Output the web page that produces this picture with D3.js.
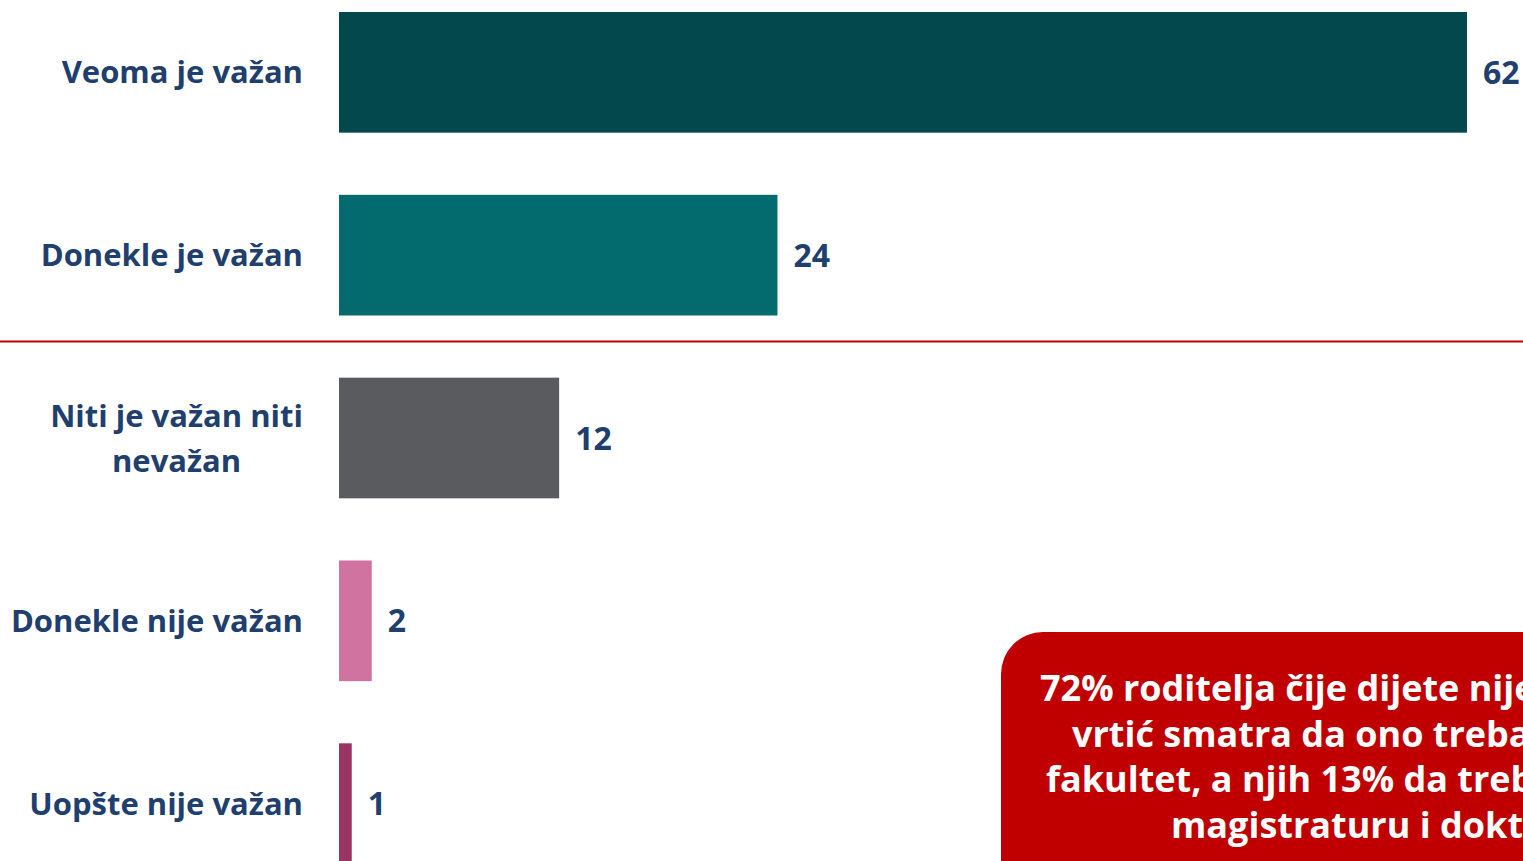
<!DOCTYPE html>
<html>
<head>
<meta charset="utf-8">
<script src="https://cdn.jsdelivr.net/npm/d3@7"></script>
<style>
  html, body { margin: 0; padding: 0; background: #fff; overflow: hidden; }
  text { font-family: "Open Sans", "Noto Sans", sans-serif; font-weight: bold; }
</style>
</head>
<body>
<svg width="1523" height="861"></svg>
<script>
// podaci
var categories = ["Veoma je važan", "Donekle je važan", "Niti je važan niti|nevažan", "Donekle nije važan", "Uopšte nije važan"];
var values = [62, 24.1, 12.1, 1.8, 0.7];
var colors = ["#02484D", "#036B6E", "#5A5B5E", "#D073A0", "#9A3463"];
var noteLines = [
  "72% roditelja čije dijete nije krenulo u",
  "vrtić smatra da ono treba da završi",
  "fakultet, a njih 13% da treba da završi",
  "magistraturu i doktorat"
];

var svg = d3.select("svg"),
  width = +svg.attr("width"),
  height = +svg.attr("height");

var x = d3.scaleLinear().domain([0, 62]).range([339, 1467]);
var y = d3.scaleBand().domain(categories).range([12, 864]).paddingInner(0.34).paddingOuter(0);

// bars
svg.selectAll("rect.bar")
  .data(values)
  .enter().append("rect")
  .attr("class", "bar")
  .attr("x", x(0))
  .attr("y", function(d, i) { return y(categories[i]); })
  .attr("width", function(d) { return x(d) - x(0); })
  .attr("height", y.bandwidth())
  .attr("fill", function(d, i) { return colors[i]; });

// value labels
svg.selectAll("text.val")
  .data(values)
  .enter().append("text")
  .attr("class", "val")
  .attr("x", function(d) { return x(d) + 16; })
  .attr("y", function(d, i) { return y(categories[i]) + y.bandwidth() / 2; })
  .attr("dy", "0.36em")
  .attr("fill", "#1F3F6F")
  .attr("font-size", 32)
  .text(function(d) { return Math.round(d); });

// category labels (right aligned block, lines centred)
categories.forEach(function(c) {
  var lines = c.split("|");
  var t = svg.append("text")
    .attr("fill", "#1F3F6F")
    .attr("font-size", 31);
  var cy = y(c) + y.bandwidth() / 2;
  var lh = 45;
  lines.forEach(function(l, k) {
    t.append("tspan")
      .attr("y", cy + (k - (lines.length - 1) / 2) * lh)
      .attr("dy", "0.36em")
      .text(l);
  });
  if (lines.length === 1) {
    t.attr("text-anchor", "end").selectAll("tspan").attr("x", 303);
  } else {
    var w = d3.max(t.selectAll("tspan").nodes(), function(n) { return n.getComputedTextLength(); });
    t.attr("text-anchor", "middle").selectAll("tspan").attr("x", 303 - w / 2);
  }
});

// red divider between important / not important
var lineY = (y(categories[1]) + y.bandwidth() + y(categories[2])) / 2 - 5;
svg.append("line")
  .attr("x1", 0).attr("x2", width)
  .attr("y1", lineY).attr("y2", lineY)
  .attr("stroke", "#C00000")
  .attr("stroke-width", 2);

// note box
svg.append("rect")
  .attr("x", 1001).attr("y", 632)
  .attr("width", 700).attr("height", 400)
  .attr("rx", 42).attr("ry", 42)
  .attr("fill", "#C00000");

var starts = [1040, 1072, 1046, 1171];
svg.selectAll("text.note")
  .data(noteLines)
  .enter().append("text")
  .attr("class", "note")
  .attr("x", function(d, i) { return starts[i]; })
  .attr("y", function(d, i) { return 688 + i * 45.7; })
  .attr("dy", "0.36em")
  .attr("fill", "#fff")
  .attr("font-size", 36)
  .text(function(d) { return d; });
</script>
</body>
</html>
